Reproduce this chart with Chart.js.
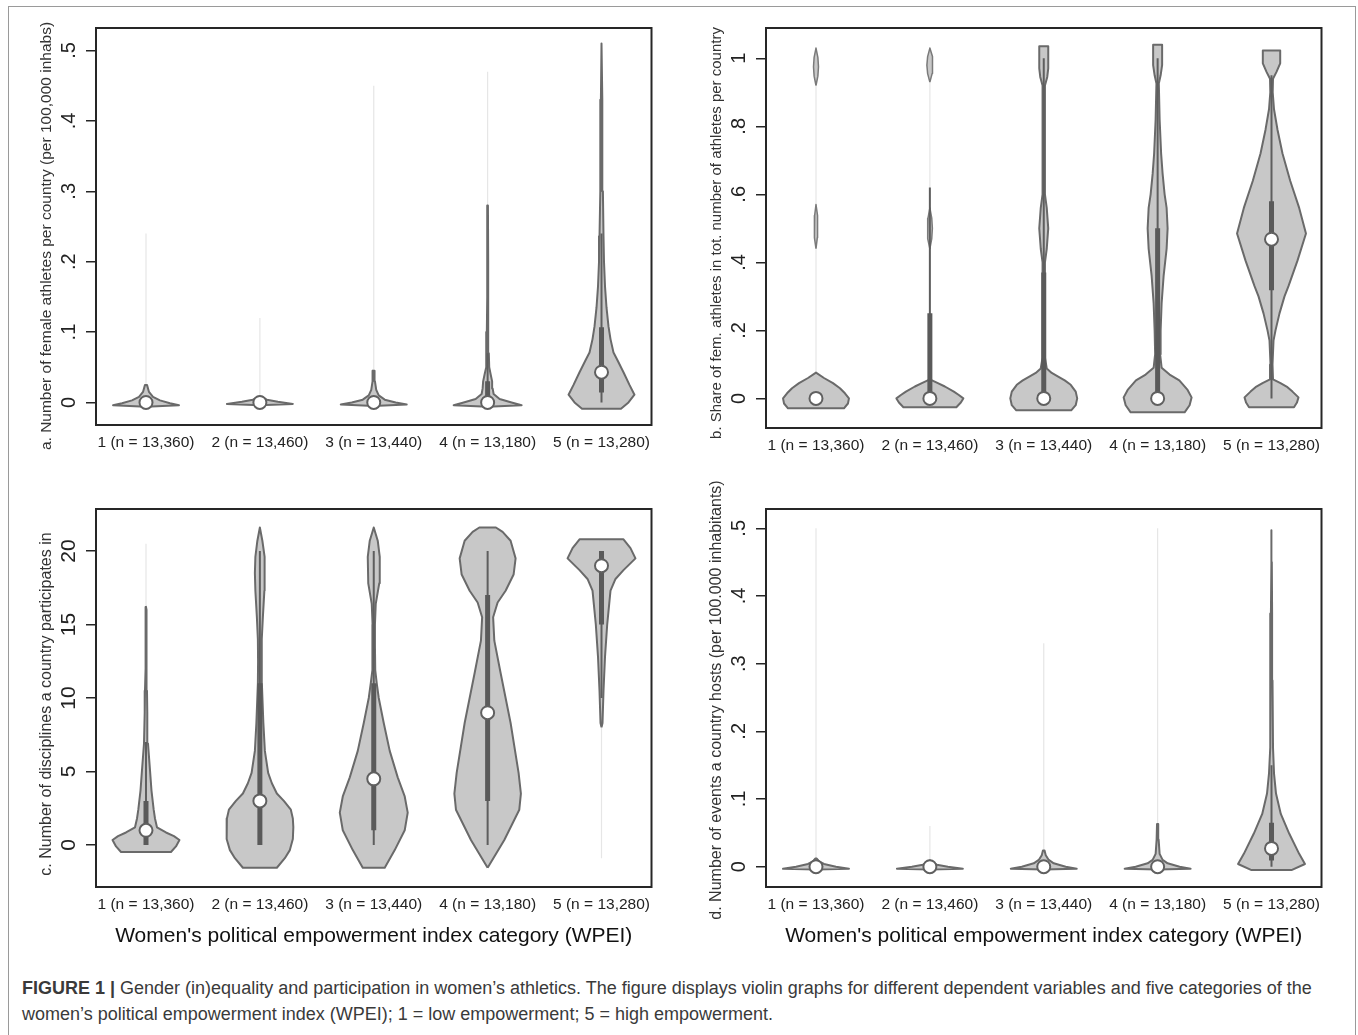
<!DOCTYPE html>
<html>
<head>
<meta charset="utf-8">
<script src="https://cdn.jsdelivr.net/npm/chart.js@4.4.0/dist/chart.umd.min.js"></script>
<style>
body { margin: 0; background: #fff; }
#page { position: relative; width: 1358px; height: 1035px; overflow: hidden; font-family: Arial, "Liberation Sans", sans-serif; }
#frame { position: absolute; left: 8px; top: 6px; width: 1346px; height: 1060px; border: 1px solid #9a9a9a; }
canvas { position: absolute; }
#caption { position: absolute; left: 22px; top: 975px; font-size: 18px; line-height: 26px; color: #3a3a3a; white-space: nowrap; }
</style>
</head>
<body>
<div id="page">
  <div id="frame"></div>
  <canvas id="pa" width="632" height="447" style="left:28px;top:8px"></canvas>
  <canvas id="pb" width="632" height="450" style="left:698px;top:8px"></canvas>
  <canvas id="pc" width="632" height="477" style="left:28px;top:480px"></canvas>
  <canvas id="pd" width="632" height="477" style="left:698px;top:480px"></canvas>
  <div id="caption"><b>FIGURE 1 |</b> Gender (in)equality and participation in women’s athletics. The figure displays violin graphs for different dependent variables and five categories of the<br>women’s political empowerment index (WPEI); 1 = low empowerment; 5 = high empowerment.</div>
</div>
<script>
// categories (WPEI) shared by all four panels
var categories = ['1 (n = 13,360)', '2 (n = 13,460)', '3 (n = 13,440)', '4 (n = 13,180)', '5 (n = 13,280)'];
var catPos = [1, 2, 3, 4, 5];

// a. female athletes per 100,000 inhabitants
var aTicks = [0, 0.1, 0.2, 0.3, 0.4, 0.5];
var aTickLabels = ['0', '.1', '.2', '.3', '.4', '.5'];
var aLevels = [
    [-0.006, -0.004, -0.001, 0.003, 0.008, 0.015, 0.025],
    [-0.004, -0.002, 0.001, 0.004, 0.008],
    [-0.005, -0.003, 0.0, 0.004, 0.01, 0.018, 0.03, 0.045],
    [-0.006, -0.004, 0.0, 0.005, 0.012, 0.02, 0.03, 0.04, 0.05, 0.07, 0.1, 0.15, 0.2, 0.28],
    [-0.009, -0.009, 0.0, 0.011, 0.025, 0.043, 0.06, 0.071, 0.09, 0.108, 0.135, 0.165, 0.2, 0.236, 0.3, 0.355, 0.43, 0.51]
];
var aDensity = [
    [0, 33, 24, 14, 7, 3, 1],
    [0, 33, 18, 7, 1.5],
    [0, 33, 22, 11, 5, 2.5, 1.2, 0.8],
    [0, 34, 24, 12, 6, 5, 4.5, 3, 1.6, 1.2, 0.8, 0.5, 0.4, 0.3],
    [0, 19.5, 27, 33, 28, 22, 16, 12, 9, 7, 5, 3.5, 2.5, 2, 1.4, 1, 0.6, 0]
];
var aMedian = [0, 0, 0, 0, 0.043];
var aQ1 = [0, 0, 0, 0, 0.014];
var aQ3 = [0, 0, 0, 0.03, 0.107];
var aAdjLow = [0, 0, 0, 0, 0];
var aAdjHigh = [0, 0, 0, 0.07, 0.24];
var aTails = [[0.025, 0.24], [0.008, 0.12], [0.045, 0.45], [0.28, 0.47], null];
var aBlobs = [];

// b. share of female athletes
var bTicks = [0, 0.2, 0.4, 0.6, 0.8, 1];
var bTickLabels = ['0', '.2', '.4', '.6', '.8', '1'];
var bLevels = [
    [-0.029, -0.029, -0.015, 0.0, 0.015, 0.03, 0.045, 0.06, 0.076],
    [-0.026, -0.026, -0.012, 0.0, 0.01, 0.02, 0.035, 0.045, 0.056],
    [-0.035, -0.035, -0.02, 0.0, 0.02, 0.04, 0.053, 0.065, 0.075, 0.088, 0.12, 0.4, 0.44, 0.5, 0.56, 0.6, 0.92, 0.945, 0.97, 1.035, 1.035],
    [-0.041, -0.041, -0.02, 0.003, 0.025, 0.053, 0.07, 0.09, 0.13, 0.2, 0.28, 0.36, 0.44, 0.5, 0.56, 0.6, 0.66, 0.72, 0.82, 0.926, 0.95, 0.98, 1.04, 1.04],
    [-0.026, -0.026, -0.012, 0.003, 0.02, 0.033, 0.045, 0.056, 0.1, 0.17, 0.2, 0.25, 0.3, 0.33, 0.405, 0.485, 0.56, 0.64, 0.72, 0.79, 0.85, 0.9, 0.94, 0.96, 0.985, 1.023, 1.023]
];
var bDensity = [
    [0, 28, 32, 33, 29, 24, 17, 8, 0],
    [0, 26.5, 31, 33.5, 29, 24, 15, 8, 0],
    [0, 27.5, 32, 33.5, 32, 27, 21, 14, 8, 3, 1.2, 1.2, 3, 4.5, 3, 1.2, 1.2, 3.5, 4.5, 4.5, 0],
    [0, 27, 32, 34, 30, 21.7, 12, 4, 2.5, 3, 4, 6, 9, 10, 9, 7, 5, 3.5, 2, 1.2, 3, 4.5, 4.5, 0],
    [0, 22.5, 25.5, 27, 21, 16, 9, 1.5, 1, 2, 4, 8, 13, 17, 26, 34.5, 27.7, 18.7, 11, 6, 2.5, 1.2, 1.5, 5, 8.7, 8.7, 0]
];
var bMedian = [0, 0, 0, 0, 0.468];
var bQ1 = [0, 0, 0, 0, 0.318];
var bQ3 = [0, 0.25, 0.37, 0.5, 0.58];
var bAdjLow = [0, 0, 0, 0, 0];
var bAdjHigh = [0, 0.62, 1.0, 1.0, 0.95];
var bTails = [[0.076, 1.03], [0.056, 1.03], null, null, null];
var bBlobs = [[1, 0.44, 0.57, 1.8], [1, 0.92, 1.03, 2.5], [2, 0.44, 0.56, 2.5], [2, 0.93, 1.03, 3]];

// c. number of disciplines
var cTicks = [0, 5, 10, 15, 20];
var cTickLabels = ['0', '5', '10', '15', '20'];
var cLevels = [
    [-0.48, -0.48, -0.1, 0.34, 0.6, 0.85, 1.2, 1.8, 2.4, 3.7, 5.1, 6.9, 9, 10.5, 12, 14, 16, 16.2],
    [-1.55, -1.55, -0.9, -0.35, 0.4, 1.2, 1.8, 2.4, 3.0, 3.5, 4.2, 4.9, 6.4, 8.3, 11, 12.5, 14, 15.5, 17.3, 18.5, 19.6, 20.7, 21.6],
    [-1.55, -1.55, -0.35, 1.0, 2.2, 3.3, 4.6, 6.4, 8.3, 10, 11, 11.9, 13.5, 15, 16.4, 17.8, 19.6, 20.7, 21.6],
    [-1.55, 0.34, 2.4, 3.5, 4.9, 8.3, 11.7, 13.9, 15.5, 16.5, 17.3, 18.4, 19.5, 20.7, 21.3, 21.6, 21.6],
    [8, 8.3, 10.5, 12.8, 15, 17.3, 18.1, 18.7, 19.5, 20.2, 20.8, 20.8]
];
var cDensity = [
    [0, 25, 30, 33.5, 28, 20, 11, 9, 7.7, 5.5, 4, 2, 1.3, 1, 0.7, 0.5, 0.4, 0],
    [0, 17, 25, 30, 33, 33.5, 33, 31, 24, 17, 12, 8.3, 5, 3.5, 2, 1.8, 2, 3, 4.5, 5, 4.5, 2.5, 0],
    [0, 11, 21, 31, 34, 31, 24, 16, 10, 5, 3, 1.5, 1.2, 1.2, 2, 5.5, 6, 4, 0],
    [0, 16.7, 31.7, 33.3, 31, 23, 13, 6.7, 5.5, 10, 18, 26, 28, 23, 15, 8.3, 0],
    [0, 1, 2, 3.5, 5.7, 9, 14, 22, 34, 29, 22, 0]
];
var cMedian = [1, 3, 4.5, 9, 19];
var cQ1 = [0, 0, 1, 3, 15];
var cQ3 = [3, 11, 11, 17, 20];
var cAdjLow = [0, 0, 0, 0, 10];
var cAdjHigh = [7, 20, 20, 20, 20];
var cTails = [[16, 20.5], null, null, null, [-0.9, 8]];
var cBlobs = [];

// d. events hosted per 100,000 inhabitants
var dTicks = [0, 0.1, 0.2, 0.3, 0.4, 0.5];
var dTickLabels = ['0', '.1', '.2', '.3', '.4', '.5'];
var dLevels = [
    [-0.004, -0.003, 0.0, 0.004, 0.008, 0.012],
    [-0.004, -0.003, 0.0, 0.003, 0.006, 0.009],
    [-0.004, -0.003, 0.0, 0.005, 0.01, 0.017, 0.024],
    [-0.004, -0.003, 0.0, 0.005, 0.01, 0.019, 0.04, 0.063],
    [-0.005, -0.005, 0.004, 0.019, 0.049, 0.078, 0.108, 0.138, 0.176, 0.275, 0.374, 0.45, 0.497]
];
var dDensity = [
    [0, 33, 20, 8, 3, 0.8],
    [0, 33, 18, 7, 2.5, 0.8],
    [0, 33, 22, 10, 5, 2, 0.8],
    [0, 33, 22, 10, 5, 2, 1, 0.6],
    [0, 20, 33.5, 27.7, 17.7, 9.3, 4.5, 2.5, 1.5, 1, 0.6, 0.3, 0]
];
var dMedian = [0, 0, 0, 0, 0.027];
var dQ1 = [0, 0, 0, 0, 0.009];
var dQ3 = [0, 0, 0, 0, 0.065];
var dAdjLow = [0, 0, 0, 0, 0];
var dAdjHigh = [0, 0, 0, 0, 0.15];
var dTails = [[0.012, 0.5], [0.009, 0.06], [0.024, 0.33], [0.063, 0.5], null];
var dBlobs = [];

var densityToX = 1 / 114; // density units -> category units
var FONT = 'Arial, "Liberation Sans", sans-serif';

function violinPoints(c, lv, dn) {
    var right = lv.map(function(y, i) { return {x: c + dn[i] * densityToX, y: y}; });
    var left = lv.map(function(y, i) { return {x: c - dn[i] * densityToX, y: y}; }).reverse();
    return right.concat(left, [right[0]]);
}

function vline(c, lo, hi) {
    return [{x: c, y: lo}, {x: c, y: hi}];
}

function buildDatasets(p) {
    var ds = [];
    catPos.forEach(function(c, i) {
        ds.push({data: violinPoints(c, p.levels[i], p.density[i]), order: 4,
            borderColor: '#6a6a6a', borderWidth: 2, backgroundColor: '#c8c8c8', fill: 'shape',
            borderJoinStyle: 'round', pointRadius: 0, tension: 0});
        if (p.tails[i]) {
            ds.push({data: vline(c, p.tails[i][0], p.tails[i][1]), order: 5,
                borderColor: '#e6e6e6', borderWidth: 1.2, pointRadius: 0, fill: false});
        }
        if (p.adjHigh[i] > p.adjLow[i]) {
            ds.push({data: vline(c, p.adjLow[i], p.adjHigh[i]), order: 3,
                borderColor: '#5e5e5e', borderWidth: 2, pointRadius: 0, fill: false});
        }
        if (p.q3[i] > p.q1[i]) {
            ds.push({data: vline(c, p.q1[i], p.q3[i]), order: 2,
                borderColor: '#5a5a5a', borderWidth: 5, borderCapStyle: 'butt', pointRadius: 0, fill: false});
        }
    });
    p.blobs.forEach(function(b) {
        var lo = b[1], hi = b[2], w = b[3];
        var lv = [lo, lo + (hi - lo) * 0.25, (lo + hi) / 2, hi - (hi - lo) * 0.25, hi];
        ds.push({data: violinPoints(b[0], lv, [0, w * 0.75, w, w * 0.75, 0]), order: 4,
            borderColor: '#7a7a7a', borderWidth: 1.5, backgroundColor: '#c8c8c8', fill: 'shape',
            borderJoinStyle: 'round', pointRadius: 0});
    });
    ds.push({data: catPos.map(function(c, i) { return {x: c, y: p.median[i]}; }), order: 1,
        showLine: false, pointRadius: 6.5, pointBackgroundColor: '#ffffff',
        pointBorderColor: '#606060', pointBorderWidth: 2});
    return ds;
}

// frame around the plot region, vertical y tick labels and y title (Stata style)
var panelDecor = {
    id: 'panelDecor',
    afterDraw: function(chart, args, opts) {
        var ctx = chart.ctx, a = chart.chartArea, y = chart.scales.y;
        ctx.save();
        ctx.strokeStyle = '#262626';
        ctx.lineWidth = 2;
        ctx.strokeRect(a.left, a.top, a.right - a.left, a.bottom - a.top);
        ctx.fillStyle = '#222';
        ctx.font = opts.fontSize + 'px ' + FONT;
        ctx.textAlign = 'center';
        ctx.textBaseline = 'middle';
        y.ticks.forEach(function(t) {
            ctx.save();
            ctx.translate(a.left - 27, y.getPixelForValue(t.value));
            ctx.rotate(-Math.PI / 2);
            ctx.fillText(t.label, 0, 0);
            ctx.restore();
        });
        ctx.fillStyle = '#333';
        ctx.font = opts.titleFont + 'px ' + FONT;
        ctx.translate(a.left - 49, (a.top + a.bottom) / 2 + opts.titleShift);
        ctx.rotate(-Math.PI / 2);
        ctx.fillText(opts.title, 0, 0);
        ctx.restore();
    }
};

function makePanel(id, p) {
    new Chart(document.getElementById(id).getContext('2d'), {
        type: 'line',
        data: {datasets: buildDatasets(p)},
        options: {
            responsive: false,
            animation: false,
            events: [],
            layout: {padding: {top: p.padTop, right: 8, left: 0, bottom: 0}},
            plugins: {
                legend: {display: false},
                tooltip: {enabled: false},
                panelDecor: {fontSize: p.tickFont, title: p.yTitle, titleFont: p.titleFont, titleShift: p.titleShift}
            },
            scales: {
                x: {
                    type: 'linear', min: 0.561, max: 5.439,
                    afterBuildTicks: function(s) { s.ticks = catPos.map(function(v) { return {value: v}; }); },
                    afterFit: function(s) { s.height = p.xTitle ? 70 : 30; },
                    ticks: {callback: function(v, i) { return categories[i]; }, padding: 0, color: '#222', font: {size: 15.5, family: FONT}, maxRotation: 0},
                    grid: {display: false},
                    border: {display: false},
                    title: {display: !!p.xTitle, text: p.xTitle || '', color: '#111', font: {size: 21, family: FONT}, padding: {top: 0, bottom: 8}}
                },
                y: {
                    type: 'linear', min: p.min, max: p.max,
                    afterBuildTicks: function(s) { s.ticks = p.ticks.map(function(v) { return {value: v}; }); },
                    afterFit: function(s) { s.width = 68; },
                    ticks: {display: false, callback: function(v, i) { return p.tickLabels[i]; }},
                    grid: {drawOnChartArea: false, drawTicks: true, tickLength: 10, color: '#262626', lineWidth: 1.5},
                    border: {display: false},
                    title: {display: false}
                }
            }
        },
        plugins: [panelDecor]
    });
}

var wpei = 'Women\'s political empowerment index category (WPEI)';

makePanel('pa', {min: -0.032, max: 0.532, ticks: aTicks, tickLabels: aTickLabels, tickFont: 20,
    padTop: 20, titleFont: 15.5, titleShift: 9.5,
    yTitle: 'a. Number of female athletes per country (per 100,000 inhabs)',
    levels: aLevels, density: aDensity, median: aMedian, q1: aQ1, q3: aQ3,
    adjLow: aAdjLow, adjHigh: aAdjHigh, tails: aTails, blobs: aBlobs});

makePanel('pb', {min: -0.087, max: 1.089, ticks: bTicks, tickLabels: bTickLabels, tickFont: 20,
    padTop: 20, titleFont: 15, titleShift: 5,
    yTitle: 'b. Share of fem. athletes in tot. number of athletes per country',
    levels: bLevels, density: bDensity, median: bMedian, q1: bQ1, q3: bQ3,
    adjLow: bAdjLow, adjHigh: bAdjHigh, tails: bTails, blobs: bBlobs});

makePanel('pc', {min: -2.86, max: 22.86, ticks: cTicks, tickLabels: cTickLabels, tickFont: 21, xTitle: wpei,
    padTop: 29, titleFont: 16, titleShift: 6,
    yTitle: 'c. Number of disciplines a country participates in',
    levels: cLevels, density: cDensity, median: cMedian, q1: cQ1, q3: cQ3,
    adjLow: cAdjLow, adjHigh: cAdjHigh, tails: cTails, blobs: cBlobs});

makePanel('pd', {min: -0.030, max: 0.5285, ticks: dTicks, tickLabels: dTickLabels, tickFont: 20, xTitle: wpei,
    padTop: 29, titleFont: 16, titleShift: 2,
    yTitle: 'd. Number of events a country hosts (per 100.000 inhabitants)',
    levels: dLevels, density: dDensity, median: dMedian, q1: dQ1, q3: dQ3,
    adjLow: dAdjLow, adjHigh: dAdjHigh, tails: dTails, blobs: dBlobs});
</script>
</body>
</html>
